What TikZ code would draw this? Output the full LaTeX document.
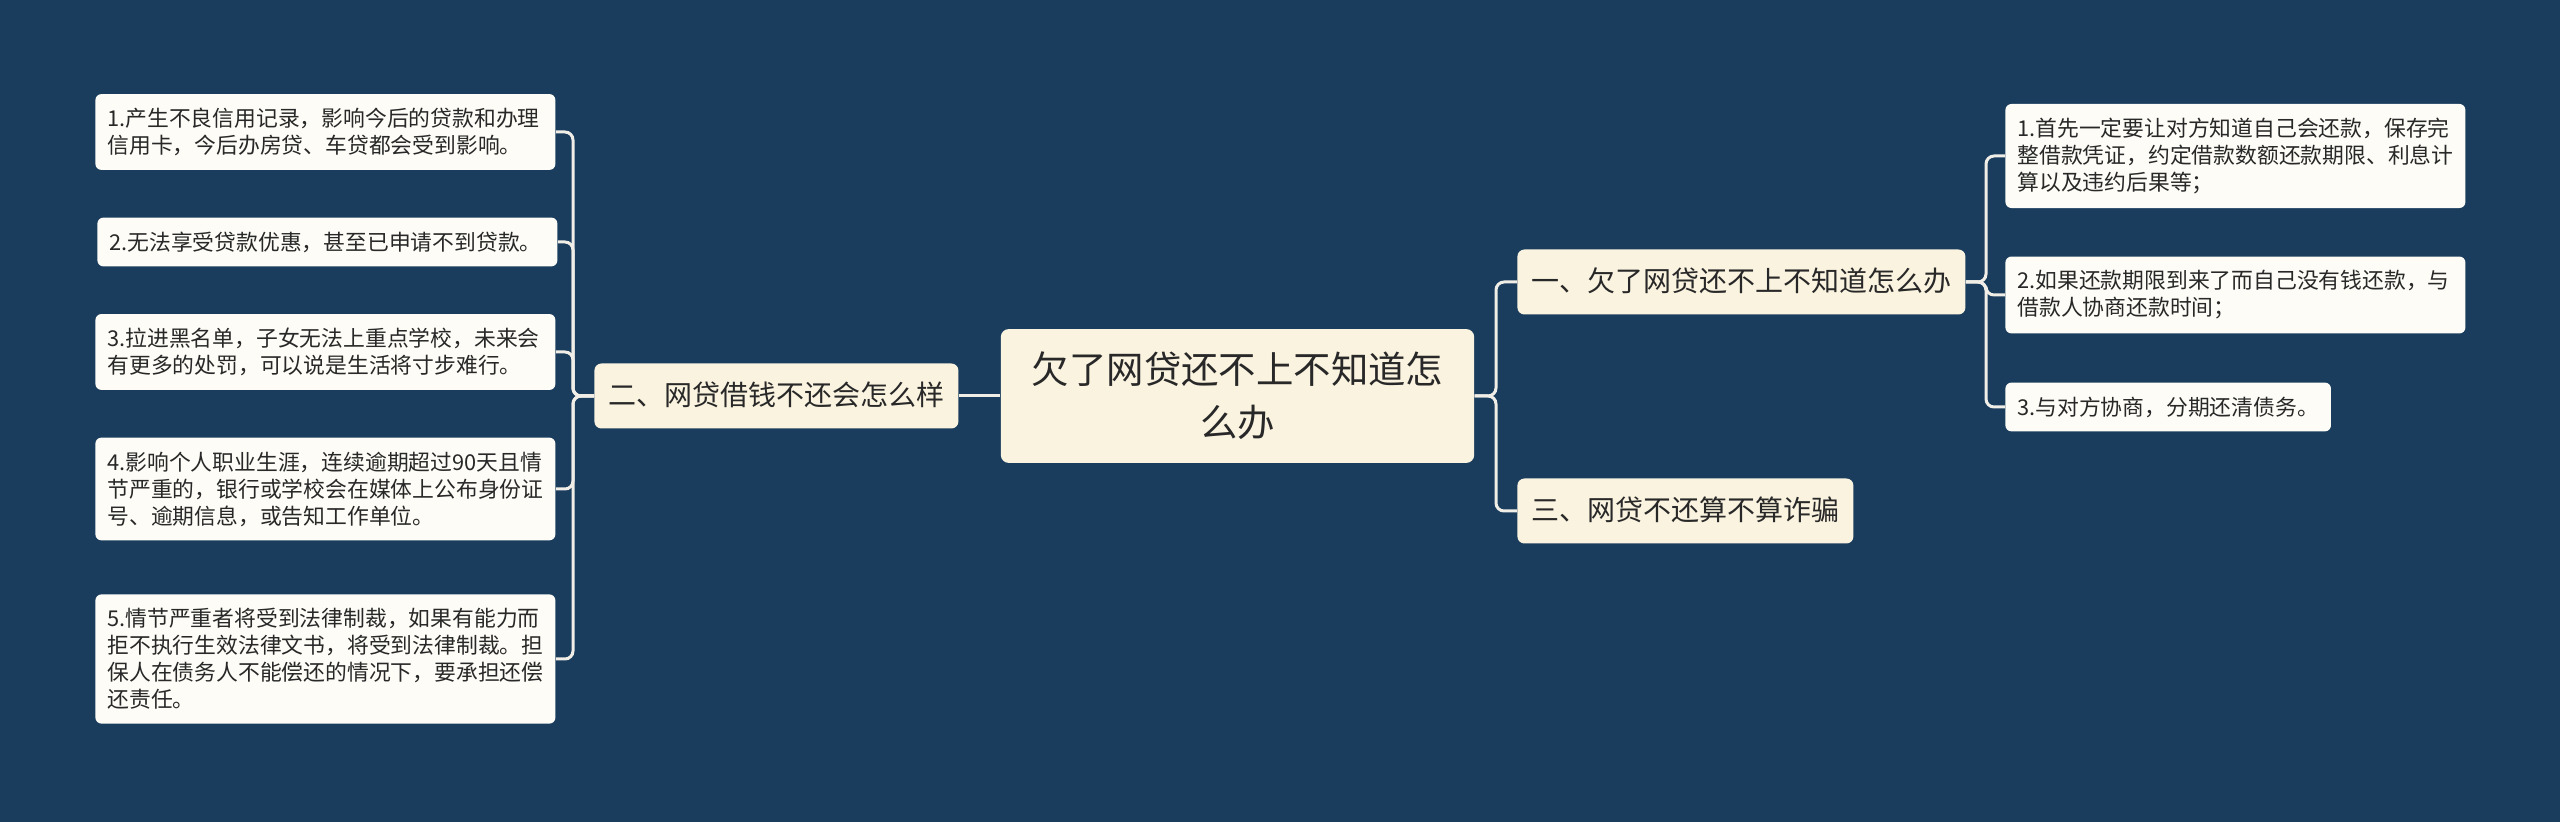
\documentclass[tikz,border=0pt]{standalone}
\usepackage{fontspec}
\setmainfont{Noto Sans CJK SC}
\usetikzlibrary{positioning}
\definecolor{bgblue}{RGB}{26,61,93}
\definecolor{rootcream}{RGB}{250,243,224}
\definecolor{leafwhite}{RGB}{253,252,246}
\definecolor{linkline}{RGB}{240,238,230}
\definecolor{inkgray}{RGB}{40,40,40}

\begin{document}
\begin{tikzpicture}[x=0.5pt,y=-0.5pt,
root/.style={fill=rootcream,rounded corners=4pt,align=center,inner xsep=15.5pt,inner ysep=11.5pt,text=inkgray,font={\fontsize{18.7}{26.5}\selectfont}},
branch/.style={fill=rootcream,rounded corners=3.5pt,inner xsep=7pt,inner ysep=9.25pt,text height=12pt,text depth=2pt,text=inkgray,font={\fontsize{14}{17}\selectfont},anchor=west},
leafbox/.style={fill=leafwhite,rounded corners=3pt,align=left,inner xsep=6pt,inner ysep=7pt,text=inkgray,font={\fontsize{10.9}{13.5}\selectfont},anchor=west},
leaf/.style={leafbox,text width=218pt},
link/.style={draw=linkline,line width=1.5pt,rounded corners=4pt}]
    % background
    \fill[bgblue] (0,0) rectangle (2560,822);

    % root and main branches
    \node[root] (root) at (1237.5,396) {欠了网贷还不上不知道怎\\么办};
    \node[branch] (lb) at (594,396) {二、网贷借钱不还会怎么样};
    \node[branch] (b1) at (1517,282) {一、欠了网贷还不上不知道怎么办};
    \node[branch] (b3) at (1517,511) {三、网贷不还算不算诈骗};

    % left leaves
    \node[leaf] (l1) at (95,132) {1.产生不良信用记录，影响今后的贷款和办理\\信用卡，今后办房贷、车贷都会受到影响。};
    \node[leaf] (l2) at (97,242) {2.无法享受贷款优惠，甚至已申请不到贷款。};
    \node[leaf] (l3) at (95,352) {3.拉进黑名单，子女无法上重点学校，未来会\\有更多的处罚，可以说是生活将寸步难行。};
    \node[leaf] (l4) at (95,489) {4.影响个人职业生涯，连续逾期超过90天且情\\节严重的，银行或学校会在媒体上公布身份证\\号、逾期信息，或告知工作单位。};
    \node[leaf] (l5) at (95,659) {5.情节严重者将受到法律制裁，如果有能力而\\拒不执行生效法律文书，将受到法律制裁。担\\保人在债务人不能偿还的情况下，要承担还偿\\还责任。};

    % right leaves
    \node[leaf] (r1) at (2005,156) {1.首先一定要让对方知道自己会还款，保存完\\整借款凭证，约定借款数额还款期限、利息计\\算以及违约后果等；};
    \node[leaf] (r2) at (2005,295) {2.如果还款期限到来了而自己没有钱还款，与\\借款人协商还款时间；};
    \node[leafbox] (r3) at (2005,407) {3.与对方协商，分期还清债务。};

    % trunks
    \coordinate (lt) at (573,0);
    \coordinate (rt) at (1496,0);
    \coordinate (bt) at (1986,0);

    \draw[link] (root.west) -- (lb.east);
    \foreach \n in {l1,l2,l3,l4,l5}
        \draw[link] (lb.west) -- (lb.west -| lt) |- (\n.east);
    \foreach \n in {b1,b3}
        \draw[link] (root.east) -- (root.east -| rt) |- (\n.west);
    \foreach \n in {r1,r2,r3}
        \draw[link] (b1.east) -- (b1.east -| bt) |- (\n.west);
\end{tikzpicture}
\end{document}
